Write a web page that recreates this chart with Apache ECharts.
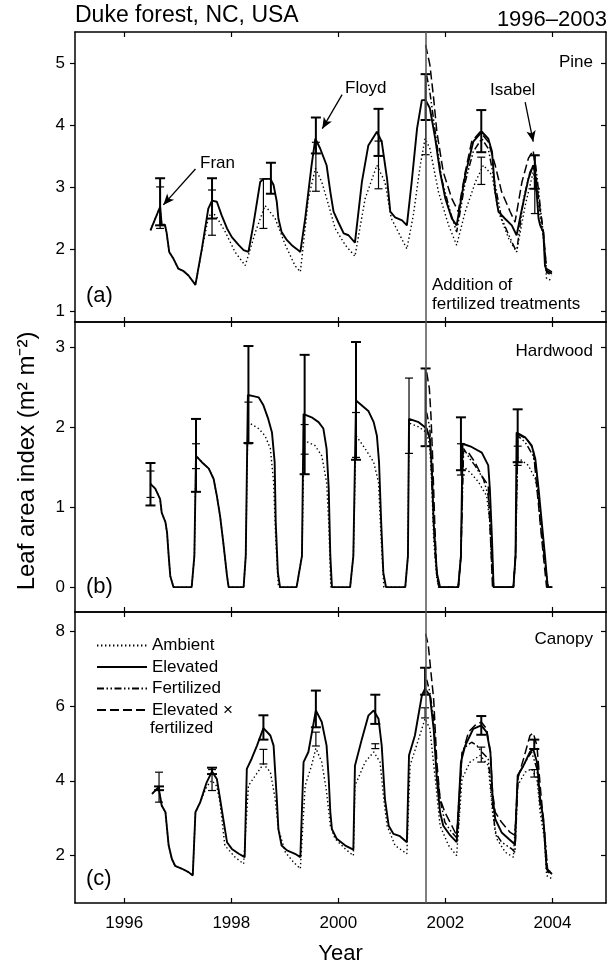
<!DOCTYPE html>
<html lang="en">
  <head>
    <meta charset="UTF-8">
    <title>Duke forest LAI</title>
    <script src="https://cdn.jsdelivr.net/npm/echarts@6/dist/echarts.min.js"></script>
    <style>
      html, body { margin: 0; padding: 0; background: #fff; }
      #main { width: 613px; height: 967px; }
    </style>
  </head>
  <body>
    <div id="main"></div>
    <script type="text/javascript">
      // x ticks (years) and y ticks for each panel
      var yearTicks = [1996, 1998, 2000, 2002, 2004];
      var pineTicks = [1, 2, 3, 4, 5];
      var hwTicks = [0, 1, 2, 3];
      var canopyTicks = [2, 4, 6, 8];
      var fertStart = 2001.64;

      // (a) Pine
      var pineAmb = [[1996.49,2.30],[1996.67,2.68],[1996.70,2.39],[1996.76,2.39],[1996.79,2.27],[1996.84,1.95],[1996.92,1.84],[1997.01,1.68],[1997.11,1.64],[1997.20,1.57],[1997.33,1.42],[1997.45,1.98],[1997.57,2.50],[1997.64,2.60],[1997.73,2.51],[1997.89,2.27],[1998.07,1.95],[1998.26,1.73],[1998.45,2.27],[1998.63,2.70],[1998.82,2.49],[1999.01,2.06],[1999.19,1.73],[1999.29,1.63],[1999.44,2.81],[1999.57,3.30],[1999.69,3.08],[1999.82,2.70],[1999.94,2.33],[2000.13,2.06],[2000.31,1.88],[2000.50,2.81],[2000.72,3.35],[2000.87,3.08],[2000.99,2.49],[2001.12,2.27],[2001.28,2.00],[2001.40,2.54],[2001.53,3.35],[2001.62,3.78],[2001.71,3.62],[2001.87,2.92],[2002.06,2.38],[2002.21,2.06],[2002.37,2.60],[2002.56,3.08],[2002.71,3.35],[2002.87,3.19],[2002.99,2.60],[2003.18,2.17],[2003.33,1.95],[2003.49,2.70],[2003.64,3.24],[2003.74,2.70],[2003.83,2.17],[2003.89,1.52],[2003.99,1.49]];
      var pineElev = [[1996.49,2.30],[1996.67,2.68],[1996.70,2.39],[1996.76,2.39],[1996.79,2.27],[1996.84,1.95],[1996.92,1.84],[1997.01,1.68],[1997.11,1.64],[1997.20,1.57],[1997.33,1.42],[1997.45,2.00],[1997.57,2.65],[1997.64,2.78],[1997.73,2.76],[1997.82,2.54],[1997.92,2.33],[1998.01,2.19],[1998.14,2.06],[1998.23,1.98],[1998.32,1.95],[1998.41,2.38],[1998.54,3.08],[1998.60,3.13],[1998.73,3.13],[1998.79,3.03],[1998.85,2.76],[1998.88,2.49],[1998.94,2.27],[1999.04,2.14],[1999.13,2.06],[1999.22,2.00],[1999.29,1.95],[1999.38,2.49],[1999.50,3.35],[1999.57,3.78],[1999.66,3.62],[1999.78,3.35],[1999.85,2.92],[1999.91,2.60],[2000.00,2.43],[2000.10,2.25],[2000.19,2.22],[2000.31,2.10],[2000.44,3.08],[2000.56,3.67],[2000.72,3.89],[2000.81,3.73],[2000.91,3.13],[2000.97,2.60],[2001.06,2.51],[2001.19,2.46],[2001.28,2.38],[2001.37,3.08],[2001.47,3.94],[2001.56,4.40],[2001.63,4.40],[2001.71,4.27],[2001.81,3.78],[2001.90,3.24],[2002.00,2.81],[2002.12,2.49],[2002.21,2.38],[2002.37,3.19],[2002.52,3.73],[2002.68,3.89],[2002.80,3.78],[2002.87,3.57],[2002.93,2.92],[2002.99,2.60],[2003.11,2.49],[2003.24,2.38],[2003.33,2.22],[2003.43,2.65],[2003.55,3.13],[2003.64,3.35],[2003.68,3.20],[2003.74,2.49],[2003.77,2.38],[2003.83,2.27],[2003.86,1.73],[2003.89,1.65],[2003.99,1.60]];
      var pineFert = [[2001.65,4.80],[2001.71,4.53],[2001.81,3.89],[2001.93,3.13],[2002.09,2.60],[2002.21,2.27],[2002.37,3.08],[2002.52,3.57],[2002.68,3.78],[2002.80,3.62],[2002.93,3.03],[2003.05,2.49],[2003.21,2.17],[2003.33,1.95],[2003.46,2.81],[2003.58,3.24],[2003.68,3.40],[2003.77,2.70],[2003.85,2.06],[2003.89,1.62],[2003.99,1.57]];
      var pineEF = [[2001.63,5.29],[2001.71,4.97],[2001.78,4.43],[2001.84,3.89],[2001.96,3.24],[2002.12,2.81],[2002.24,2.60],[2002.37,3.24],[2002.49,3.73],[2002.65,3.89],[2002.80,3.73],[2002.93,3.35],[2003.05,2.92],[2003.21,2.60],[2003.30,2.43],[2003.43,3.08],[2003.55,3.46],[2003.64,3.59],[2003.74,2.81],[2003.83,2.27],[2003.89,1.68],[2003.99,1.63]];
      // error bars: [year, low, high]
      var pineErrElev = [[1996.67,2.38,3.14],[1997.64,2.49,3.14],[1998.74,2.89,3.39],[1999.58,3.54,4.12],[2000.75,3.50,4.26],[2001.63,4.08,4.82],[2002.67,3.56,4.24],[2003.67,2.97,3.51]];
      var pineErrAmb = [[1996.67,2.33,3.00],[1997.64,2.22,2.95],[1998.60,2.33,3.13],[1999.58,2.93,3.72],[2000.75,2.97,3.74],[2001.63,3.52,4.08],[2002.67,3.04,3.48],[2003.67,2.57,3.51]];

      // (b) Hardwood
      var hwAmb = [[1996.49,1.29],[1996.58,1.23],[1996.67,1.10],[1996.70,0.93],[1996.77,0.81],[1996.80,0.68],[1996.83,0.39],[1996.86,0.14],[1996.92,0],[1997.26,0],[1997.31,0.39],[1997.34,1.64],[1997.45,1.56],[1997.58,1.48],[1997.67,1.35],[1997.73,1.14],[1997.79,0.89],[1997.85,0.56],[1997.92,0.14],[1997.95,0],[1998.23,0],[1998.27,0.39],[1998.31,2.06],[1998.51,1.98],[1998.63,1.89],[1998.73,1.73],[1998.79,1.31],[1998.83,0.60],[1998.88,0],[1999.22,0],[1999.32,0.39],[1999.36,1.83],[1999.56,1.77],[1999.69,1.64],[1999.78,1.31],[1999.82,0.81],[1999.86,0],[2000.22,0],[2000.28,0.39],[2000.33,1.89],[2000.50,1.73],[2000.66,1.56],[2000.75,1.31],[2000.80,0.60],[2000.85,0],[2001.25,0],[2001.30,0.39],[2001.32,2.05],[2001.50,2.00],[2001.65,1.93],[2001.71,1.75],[2001.75,1.20],[2001.78,0.60],[2001.84,0.10],[2001.88,0],[2002.24,0],[2002.29,0.39],[2002.32,1.52],[2002.48,1.42],[2002.62,1.31],[2002.77,1.14],[2002.83,0.81],[2002.87,0.18],[2002.90,0],[2003.27,0],[2003.31,0.39],[2003.35,1.62],[2003.55,1.52],[2003.68,1.35],[2003.77,0.98],[2003.86,0.31],[2003.92,0],[2004.00,0]];
      var hwElev = [[1996.49,1.29],[1996.58,1.23],[1996.67,1.10],[1996.70,0.93],[1996.77,0.81],[1996.80,0.68],[1996.83,0.39],[1996.86,0.14],[1996.92,0],[1997.26,0],[1997.31,0.39],[1997.34,1.64],[1997.45,1.56],[1997.58,1.48],[1997.67,1.35],[1997.73,1.14],[1997.79,0.89],[1997.85,0.56],[1997.92,0.14],[1997.95,0],[1998.23,0],[1998.27,0.39],[1998.31,2.40],[1998.51,2.37],[1998.60,2.27],[1998.69,2.10],[1998.76,1.93],[1998.81,1.56],[1998.83,0.81],[1998.87,0.18],[1998.91,0],[1999.22,0],[1999.32,0.39],[1999.35,2.16],[1999.50,2.12],[1999.63,2.06],[1999.72,1.98],[1999.78,1.73],[1999.82,1.23],[1999.85,0.39],[1999.88,0],[2000.22,0],[2000.28,0.39],[2000.33,2.33],[2000.56,2.20],[2000.66,2.06],[2000.72,1.89],[2000.76,1.56],[2000.80,0.81],[2000.84,0.18],[2000.89,0],[2001.25,0],[2001.30,0.39],[2001.32,2.10],[2001.50,2.06],[2001.65,1.98],[2001.71,1.85],[2001.75,1.43],[2001.78,0.81],[2001.84,0.18],[2001.90,0],[2002.24,0],[2002.29,0.39],[2002.32,1.79],[2002.49,1.75],[2002.68,1.68],[2002.80,1.52],[2002.83,1.23],[2002.87,0.60],[2002.90,0],[2003.27,0],[2003.31,0.39],[2003.33,1.93],[2003.49,1.87],[2003.61,1.77],[2003.68,1.60],[2003.74,1.23],[2003.80,0.81],[2003.86,0.39],[2003.91,0],[2004.00,0]];
      var hwFert = [[2001.65,2.18],[2001.71,1.98],[2001.75,1.23],[2001.81,0.39],[2001.87,0],[2002.24,0],[2002.29,0.39],[2002.34,1.73],[2002.46,1.60],[2002.55,1.52],[2002.71,1.35],[2002.80,1.14],[2002.85,0.60],[2002.90,0],[2003.27,0],[2003.31,0.39],[2003.35,1.89],[2003.49,1.81],[2003.64,1.64],[2003.71,1.39],[2003.77,0.81],[2003.86,0.31],[2003.92,0],[2004.00,0]];
      var hwEF = [[2001.65,2.68],[2001.70,2.48],[2001.73,2.14],[2001.76,1.64],[2001.80,0.81],[2001.84,0.14],[2001.88,0],[2002.24,0],[2002.29,0.39],[2002.33,1.70],[2002.43,1.68],[2002.55,1.56],[2002.68,1.39],[2002.80,1.27],[2002.83,0.81],[2002.88,0],[2003.27,0],[2003.31,0.39],[2003.35,1.91],[2003.52,1.85],[2003.64,1.73],[2003.71,1.23],[2003.77,0.81],[2003.83,0.39],[2003.89,0],[2004.00,0]];
      var hwErrElev = [[1996.49,1.02,1.55],[1997.34,1.19,2.10],[1998.32,1.80,3.01],[1999.37,1.41,2.90],[2000.33,1.59,3.06],[2001.63,1.76,2.73],[2002.29,1.46,2.12],[2003.35,1.56,2.22]];
      var hwErrAmb = [[1996.49,1.12,1.45],[1997.34,1.48,1.79],[1998.32,1.79,2.31],[1999.37,1.66,2.03],[2000.33,1.62,2.18],[2001.32,1.67,2.61],[2002.29,1.40,1.79],[2003.35,1.52,1.76]];

      // (c) Canopy
      var cAmb = [[1996.52,3.65],[1996.64,3.83],[1996.70,3.34],[1996.77,3.16],[1996.80,2.71],[1996.83,2.27],[1996.89,1.91],[1996.95,1.73],[1997.08,1.65],[1997.20,1.56],[1997.28,1.47],[1997.33,3.16],[1997.42,3.43],[1997.54,3.85],[1997.64,4.01],[1997.73,3.85],[1997.79,3.40],[1997.88,2.27],[1998.07,1.96],[1998.23,1.78],[1998.32,3.87],[1998.45,4.14],[1998.60,4.45],[1998.73,4.23],[1998.82,3.52],[1998.88,2.71],[1999.01,2.09],[1999.16,1.83],[1999.29,1.65],[1999.38,3.87],[1999.50,4.41],[1999.58,4.87],[1999.69,4.50],[1999.78,3.70],[1999.85,2.80],[1999.94,2.45],[2000.13,2.18],[2000.28,2.00],[2000.31,3.87],[2000.50,4.50],[2000.66,4.77],[2000.78,4.50],[2000.84,3.61],[2000.91,2.80],[2001.06,2.27],[2001.28,2.05],[2001.34,4.41],[2001.50,5.12],[2001.62,5.66],[2001.71,5.39],[2001.81,4.05],[2001.90,2.80],[2002.06,2.27],[2002.21,2.00],[2002.31,4.05],[2002.46,4.50],[2002.65,4.68],[2002.80,4.41],[2002.88,3.16],[2002.96,2.45],[2003.12,2.09],[2003.27,1.96],[2003.35,3.87],[2003.49,4.23],[2003.61,4.32],[2003.71,4.05],[2003.77,3.16],[2003.85,2.45],[2003.89,1.47],[2003.99,1.38]];
      var cElev = [[1996.52,3.65],[1996.64,3.83],[1996.70,3.34],[1996.77,3.16],[1996.80,2.71],[1996.83,2.27],[1996.89,1.91],[1996.95,1.73],[1997.08,1.65],[1997.20,1.56],[1997.28,1.47],[1997.33,3.16],[1997.42,3.43],[1997.54,3.96],[1997.64,4.25],[1997.73,4.05],[1997.79,3.52],[1997.85,2.98],[1997.92,2.36],[1998.01,2.18],[1998.14,2.05],[1998.25,1.96],[1998.29,4.32],[1998.38,4.59],[1998.48,4.94],[1998.60,5.41],[1998.73,5.21],[1998.79,4.94],[1998.85,3.52],[1998.88,2.71],[1998.94,2.27],[1999.04,2.14],[1999.19,2.05],[1999.29,1.96],[1999.35,4.50],[1999.44,4.77],[1999.58,5.88],[1999.69,5.57],[1999.78,4.94],[1999.82,4.05],[1999.85,3.16],[1999.88,2.71],[1999.97,2.45],[2000.13,2.27],[2000.28,2.16],[2000.31,4.40],[2000.44,5.12],[2000.56,5.74],[2000.66,5.88],[2000.75,5.66],[2000.81,4.94],[2000.87,3.52],[2000.94,2.80],[2001.03,2.58],[2001.15,2.52],[2001.28,2.36],[2001.32,4.68],[2001.43,5.21],[2001.56,6.28],[2001.62,6.46],[2001.71,6.28],[2001.78,5.39],[2001.84,4.05],[2001.90,3.16],[2001.96,2.80],[2002.09,2.54],[2002.21,2.36],[2002.29,4.50],[2002.37,4.94],[2002.52,5.39],[2002.67,5.48],[2002.77,5.30],[2002.84,4.77],[2002.88,3.61],[2002.93,2.98],[2003.05,2.62],[2003.18,2.45],[2003.30,2.30],[2003.35,4.14],[2003.46,4.41],[2003.58,4.77],[2003.64,4.85],[2003.71,4.50],[2003.77,3.52],[2003.83,2.98],[2003.89,1.65],[2003.99,1.51]];
      var cFert = [[2001.65,6.70],[2001.71,6.37],[2001.78,5.66],[2001.84,4.23],[2001.90,3.52],[2001.99,2.89],[2002.12,2.62],[2002.23,2.45],[2002.31,4.77],[2002.40,4.94],[2002.49,5.03],[2002.59,4.94],[2002.68,4.77],[2002.80,4.59],[2002.87,3.52],[2002.93,2.62],[2003.05,2.36],[2003.24,2.18],[2003.30,2.09],[2003.36,4.14],[2003.49,4.50],[2003.61,4.77],[2003.71,4.32],[2003.77,3.34],[2003.85,2.71],[2003.91,1.56],[2003.99,1.51]];
      var cEF = [[2001.63,7.93],[2001.68,7.62],[2001.73,6.90],[2001.78,6.19],[2001.84,4.50],[2001.90,3.52],[2001.99,3.16],[2002.12,2.80],[2002.21,2.54],[2002.31,4.68],[2002.43,5.30],[2002.55,5.48],[2002.67,5.57],[2002.77,5.39],[2002.84,4.77],[2002.88,3.70],[2002.93,3.16],[2003.05,2.89],[2003.21,2.62],[2003.30,2.54],[2003.35,4.05],[2003.46,4.59],[2003.58,5.21],[2003.64,5.28],[2003.71,4.94],[2003.77,3.87],[2003.84,2.80],[2003.91,1.60],[2003.99,1.56]];
      var cErrElev = [[1996.65,3.75,3.85],[1997.64,4.18,4.35],[1998.60,5.10,5.75],[1999.58,5.43,6.41],[2000.69,5.52,6.30],[2001.62,6.30,7.02],[2002.67,5.23,5.73],[2003.66,4.85,5.10]];
      var cErrAmb = [[1996.65,3.43,4.23],[1997.64,3.74,4.30],[1998.60,4.45,4.84],[1999.58,4.93,5.30],[2000.69,4.86,4.99],[2001.62,5.68,5.95],[2002.67,4.50,4.90],[2003.66,4.10,4.30]];

      var FONT = 'Liberation Sans, Arial, sans-serif';
      var names = ['Ambient', 'Elevated', 'Fertilized', 'Elevated × fertilized'];
      var styles = [
        {color: '#000', width: 1.4, type: [1.4, 2.6]},
        {color: '#000', width: 1.9, type: 'solid'},
        {color: '#000', width: 1.5, type: [7, 2.5, 1.5, 2.5, 1.5, 2.5]},
        {color: '#000', width: 1.5, type: [9, 4]}
      ];

      var panels = [
        {top: 32, height: 290, min: 0.82, max: 5.5, ticks: pineTicks, lines: [pineAmb, pineElev, pineFert, pineEF], errE: pineErrElev, errA: pineErrAmb},
        {top: 322, height: 290, min: -0.31, max: 3.31, ticks: hwTicks, lines: [hwAmb, hwElev, hwFert, hwEF], errE: hwErrElev, errA: hwErrAmb},
        {top: 612, height: 291, min: 0.735, max: 8.51, ticks: canopyTicks, lines: [cAmb, cElev, cFert, cEF], errE: cErrElev, errA: cErrAmb}
      ];

      function errRender(width, cap) {
        return function (params, api) {
          var a = api.coord([api.value(0), api.value(1)]);
          var b = api.coord([api.value(0), api.value(2)]);
          var st = {stroke: '#000', lineWidth: width};
          return {
            type: 'group',
            children: [
              {type: 'line', shape: {x1: a[0], y1: a[1], x2: b[0], y2: b[1]}, style: st},
              {type: 'line', shape: {x1: a[0] - cap, y1: a[1], x2: a[0] + cap, y2: a[1]}, style: st},
              {type: 'line', shape: {x1: b[0] - cap, y1: b[1], x2: b[0] + cap, y2: b[1]}, style: st}
            ]
          };
        };
      }

      var grids = [], xAxes = [], yAxes = [], series = [];
      var lineCol = {color: '#000', width: 1.5};
      var tickCol = {color: '#000', width: 1.2};

      panels.forEach(function (p, i) {
        grids.push({left: 75, right: 7, top: p.top, height: p.height});
        ['bottom', 'top'].forEach(function (pos) {
          xAxes.push({
            gridIndex: i, type: 'value', position: pos, min: 1995.08, max: 2005,
            axisLine: {show: true, onZero: false, lineStyle: lineCol},
            axisTick: {show: true, inside: true, length: 5, customValues: yearTicks, lineStyle: tickCol},
            axisLabel: {show: i === 2 && pos === 'bottom', customValues: yearTicks, margin: 12,
              color: '#000', fontSize: 17, fontFamily: FONT,
              formatter: function (v) { return String(Math.round(v)); }},
            splitLine: {show: false},
            name: i === 2 && pos === 'bottom' ? 'Year' : '',
            nameLocation: 'middle', nameGap: 40,
            nameTextStyle: {color: '#000', fontSize: 22, fontFamily: FONT}
          });
        });
        ['left', 'right'].forEach(function (pos) {
          yAxes.push({
            gridIndex: i, type: 'value', position: pos, min: p.min, max: p.max,
            axisLine: {show: true, onZero: false, lineStyle: lineCol},
            axisTick: {show: true, inside: pos === 'right', length: 5, customValues: p.ticks, lineStyle: tickCol},
            axisLabel: {show: pos === 'left', customValues: p.ticks, margin: 10,
              color: '#000', fontSize: 17, fontFamily: FONT,
              formatter: function (v) { return String(Math.round(v)); }},
            splitLine: {show: false}
          });
        });
        p.lines.forEach(function (d, k) {
          var s = {
            name: names[k], type: 'line', xAxisIndex: i * 2, yAxisIndex: i * 2,
            data: d, symbol: 'none', showSymbol: false, smooth: false,
            lineStyle: styles[k], itemStyle: {color: '#000'}, z: 3, silent: true
          };
          if (k === 1) {
            var ml = [{xAxis: fertStart, lineStyle: {color: '#555', width: 1.5, type: 'solid'}}];
            if (i === 0) {
              // hurricane arrows
              var arrowStyle = {color: '#000', width: 1.3, type: 'solid'};
              ml.push([{coord: [1997.33, 3.29], symbol: 'none', lineStyle: arrowStyle}, {coord: [1996.73, 2.71], symbol: 'arrow'}]);
              ml.push([{coord: [2000.07, 4.49], symbol: 'none', lineStyle: arrowStyle}, {coord: [1999.70, 3.94], symbol: 'arrow'}]);
              ml.push([{coord: [2003.49, 4.37], symbol: 'none', lineStyle: arrowStyle}, {coord: [2003.64, 3.73], symbol: 'arrow'}]);
            }
            s.markLine = {silent: true, symbol: 'none', symbolSize: [7, 11], label: {show: false}, data: ml};
          }
          series.push(s);
        });
        series.push({type: 'custom', xAxisIndex: i * 2, yAxisIndex: i * 2, data: p.errA, renderItem: errRender(1.2, 4), z: 4, silent: true});
        series.push({type: 'custom', xAxisIndex: i * 2, yAxisIndex: i * 2, data: p.errE, renderItem: errRender(2, 5), z: 4, silent: true});
      });

      function txt(text, x, y, size, align, extra) {
        var o = {type: 'text', x: x, y: y, z: 10, silent: true,
          style: {text: text, fill: '#000', font: size + 'px ' + FONT, textAlign: align || 'left', textVerticalAlign: 'middle'}};
        if (extra) for (var k in extra) o[k] = extra[k];
        return o;
      }

      var myChart = echarts.init(document.getElementById('main'), null, {renderer: 'canvas'});
      myChart.setOption({
        animation: false,
        backgroundColor: '#fff',
        grid: grids,
        xAxis: xAxes,
        yAxis: yAxes,
        legend: {
          data: names, orient: 'vertical', left: 91, top: 632,
          itemWidth: 50, itemHeight: 14, itemGap: 4.5, selectedMode: false,
          itemStyle: {opacity: 0},
          textStyle: {color: '#000', fontSize: 17, fontFamily: FONT, lineHeight: 17},
          formatter: function (n) { return n === 'Elevated × fertilized' ? 'Elevated ×' : n; }
        },
        series: series,
        graphic: [
          txt('Duke forest, NC, USA', 75, 16, 23),
          txt('1996–2003', 607, 20, 22, 'right'),
          txt('Pine', 593, 62, 17, 'right'),
          txt('Hardwood', 593, 351, 17, 'right'),
          txt('Canopy', 593, 639, 17, 'right'),
          txt('(a)', 86, 296, 22),
          txt('(b)', 86, 587, 22),
          txt('(c)', 86, 879, 22),
          txt('Fran', 200, 163, 17),
          txt('Floyd', 345, 88, 17),
          txt('Isabel', 490, 90, 17),
          txt('Addition of', 432, 285, 17),
          txt('fertilized treatments', 432, 304, 17),
          txt('fertilized', 150, 728, 17),
          txt('Leaf area index (m² m⁻²)', 27, 461, 24, 'center', {rotation: Math.PI / 2})
        ]
      });
    </script>
  </body>
</html>
